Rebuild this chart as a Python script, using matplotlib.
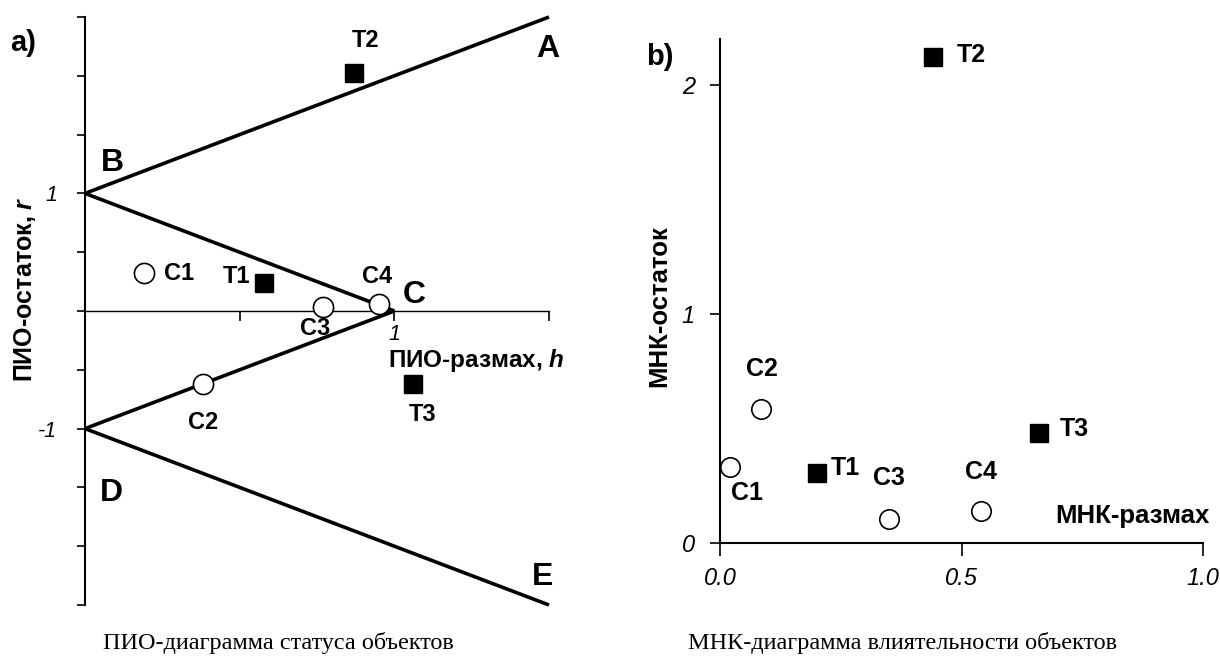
import numpy as np
import matplotlib.pyplot as plt

plt.rcParams['font.family'] = ['Liberation Sans', 'DejaVu Sans']
plt.rcParams['mathtext.fontset'] = 'custom'
plt.rcParams['mathtext.it'] = 'Liberation Sans:italic:bold'
plt.rcParams['mathtext.rm'] = 'Liberation Sans:bold'

# objects: C - circles, T - squares
labels = ["C1", "C2", "C3", "C4", "T1", "T2", "T3"]
is_test = [False, False, False, False, True, True, True]

# ПИО-диаграмма (h, r)
pio_h = [0.19, 0.38, 0.77, 0.95, 0.58, 0.87, 1.06]
pio_r = [0.32, -0.62, 0.03, 0.06, 0.24, 2.02, -0.62]

# МНК-диаграмма
mnk_h = [0.02, 0.085, 0.35, 0.54, 0.20, 0.44, 0.66]
mnk_r = [0.33, 0.585, 0.105, 0.14, 0.305, 2.12, 0.48]

# boundary vertices
vert_names = ["A", "B", "C", "D", "E"]
vert_h = [1.5, 0.0, 1.0, 0.0, 1.5]
vert_r = [2.5, 1.0, 0.0, -1.0, -2.5]
edges = [("B", "A"), ("B", "C"), ("D", "C"), ("D", "E")]

# label offsets in pixels
pio_off = {"C1": (35, 0), "C2": (1, -39), "C3": (-8, -21), "C4": (-2, 27),
           "T1": (-28, 6), "T2": (11, 33), "T3": (10, -31)}
mnk_off = {"C1": (17, -26), "C2": (1, 40), "C3": (0, 41), "C4": (0, 39),
           "T1": (29, 5), "T2": (39, 2), "T3": (36, 4)}
vert_off = {"A": (-1, -32), "B": (27, 30), "C": (20, 16), "D": (26, -64), "E": (-6, 28)}

W, H = 1220, 661
fig = plt.figure(figsize=(12.2, 6.61), dpi=100)

def box(x0, x1, ytop, ybot):
    return [x0 / W, (H - ybot) / H, (x1 - x0) / W, (ybot - ytop) / H]

def draw_points(ax, xs, ys, offs, ms_sq, ms_c, fs):
    for lab, x, y, t in zip(labels, xs, ys, is_test):
        if t:
            ax.plot(x, y, marker='s', ms=ms_sq, color='black', mec='black', zorder=5, clip_on=False)
        else:
            ax.plot(x, y, marker='o', ms=ms_c, mfc='white', mec='black', mew=1.2, zorder=5, clip_on=False)
        ax.annotate(lab, (x, y), xytext=offs[lab], textcoords='offset pixels',
                    ha='center', va='center', fontsize=fs, fontweight='bold')

# ---- a) ----
ax1 = fig.add_axes(box(85, 549, 17, 605))
ax1.set_xlim(0, 1.5)
ax1.set_ylim(-2.5, 2.5)
for s in ['top', 'right']:
    ax1.spines[s].set_visible(False)
ax1.spines['bottom'].set_position(('data', 0))
ax1.spines['left'].set_linewidth(1.5)
ax1.spines['bottom'].set_linewidth(1.0)
ax1.set_xticks([0, 0.5, 1, 1.5])
ax1.set_xticklabels(["", "", "1", ""], style='italic', fontsize=15.5)
yt = np.arange(-2.5, 2.51, 0.5)
ax1.set_yticks(yt)
ax1.set_yticklabels(["1" if v == 1 else "-1" if v == -1 else "" for v in yt],
                    style='italic', fontsize=15.5)
ax1.tick_params(axis='y', direction='out', length=6, width=1.2, pad=14)
ax1.tick_params(axis='x', direction='out', length=7, width=1.2, pad=2)

vh = dict(zip(vert_names, vert_h))
vr = dict(zip(vert_names, vert_r))
for a, b in edges:
    ax1.plot([vh[a], vh[b]], [vr[a], vr[b]], color='black', lw=2.6, solid_capstyle='butt', clip_on=False, zorder=3)
for n in vert_names:
    ax1.annotate(n, (vh[n], vr[n]), xytext=vert_off[n], textcoords='offset pixels',
                 ha='center', va='center', fontsize=23, fontweight='bold')

draw_points(ax1, pio_h, pio_r, pio_off, 13.5, 14.5, 17)

ax1.text(0.98, -0.42, r"ПИО-размах, $h$", fontsize=17.5, fontweight='bold', ha='left', va='center')
fig.text(25 / W, 1 - 289 / H, r"ПИО-остаток, $r$", rotation=90, fontsize=18, fontweight='bold',
         ha='center', va='center')
fig.text(23 / W, 1 - 43 / H, "a)", fontsize=21, fontweight='bold', ha='center', va='center')

# ---- b) ----
ax2 = fig.add_axes(box(720, 1203, 39, 543))
ax2.set_xlim(0, 1.0)
ax2.set_ylim(0, 2.2)
for s in ['top', 'right']:
    ax2.spines[s].set_visible(False)
ax2.spines['left'].set_linewidth(1.5)
ax2.spines['bottom'].set_linewidth(1.5)
ax2.set_xticks([0, 0.5, 1.0])
ax2.set_xticklabels(["0.0", "0.5", "1.0"], style='italic', fontsize=17)
ax2.set_yticks([0, 1, 2])
ax2.set_yticklabels(["0", "1", "2"], style='italic', fontsize=17)
ax2.tick_params(axis='y', direction='out', length=7, width=1.2, pad=11)
ax2.tick_params(axis='x', direction='out', length=9, width=1.2, pad=8)

draw_points(ax2, mnk_h, mnk_r, mnk_off, 13.5, 14, 18)

ax2.text(0.694, 0.12, "МНК-размах", fontsize=18.5, fontweight='bold', ha='left', va='center')
fig.text(659 / W, 1 - 306 / H, "МНК-остаток", rotation=90, fontsize=18.5, fontweight='bold',
         ha='center', va='center')
fig.text(660 / W, 1 - 57 / H, "b)", fontsize=21, fontweight='bold', ha='center', va='center')

# captions
fig.text(278 / W, 1 - 643 / H, "ПИО-диаграмма статуса объектов", family='Liberation Serif',
         fontsize=17.5, ha='center', va='center')
fig.text(903 / W, 1 - 643 / H, "МНК-диаграмма влиятельности объектов", family='Liberation Serif',
         fontsize=17.5, ha='center', va='center')

fig.savefig("out.png", dpi=100)
